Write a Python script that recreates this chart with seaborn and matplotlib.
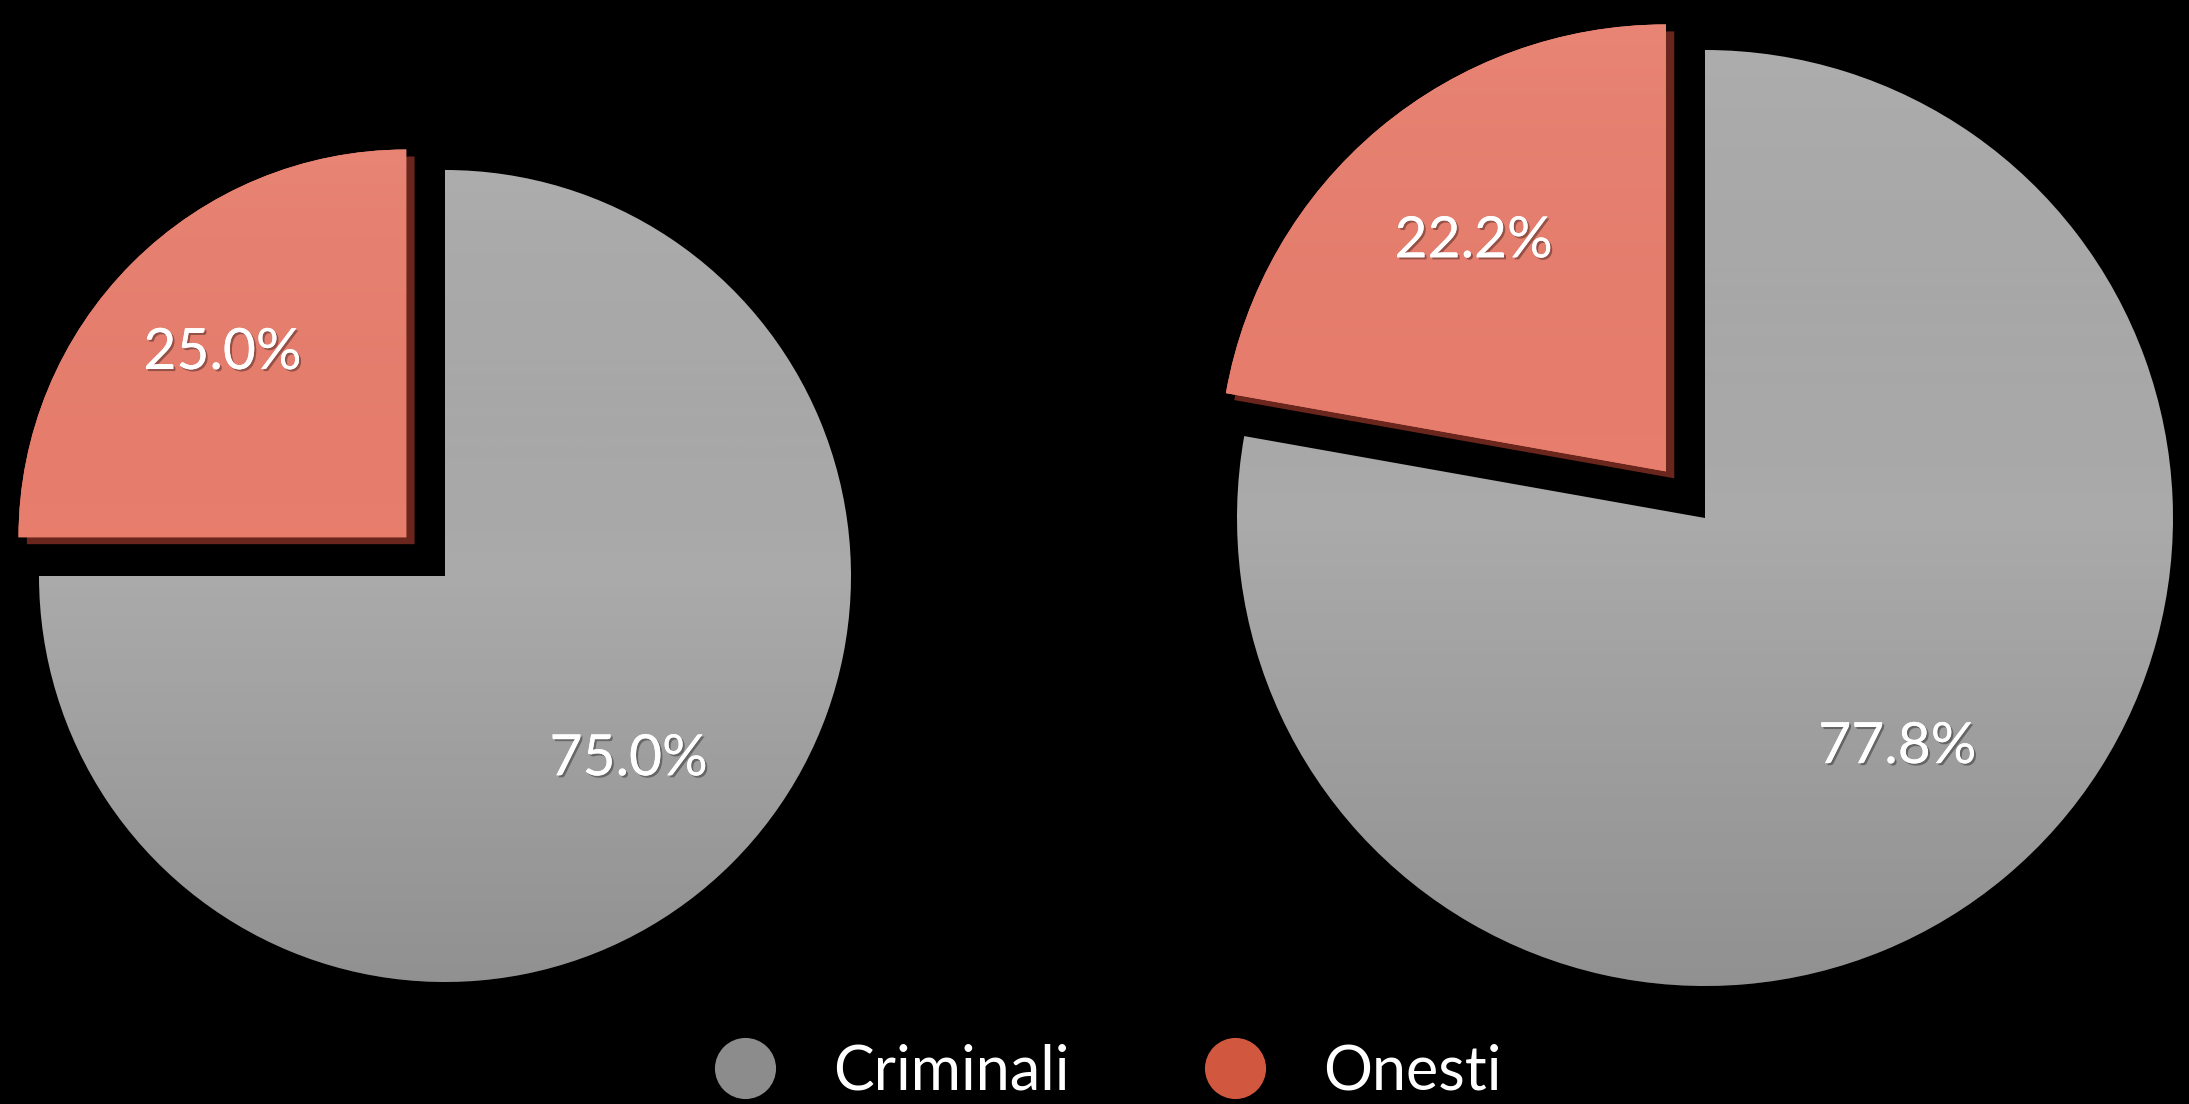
import numpy as np
import matplotlib
matplotlib.use("Agg")
import matplotlib.pyplot as plt
import matplotlib.patheffects as pe
from matplotlib.colors import LinearSegmentedColormap
from matplotlib.lines import Line2D
import seaborn as sns

# Data
categories = ["Criminali", "Onesti"]
left_values = [75.0, 25.0]
right_values = [77.8, 22.2]

# Styling
pie_colors = ["#aaaaaa", "#e97e6d"]
legend_colors = ["#8c8c8c", "#d2573f"]
side_color = "#6a261c"

sns.set_style("dark", {"axes.facecolor": "black", "figure.facecolor": "black"})
plt.rcParams["font.family"] = ["Lato", "DejaVu Sans"]

W, H = 2189, 1104
fig = plt.figure(figsize=(W / 100, H / 100), dpi=100, facecolor="black")
ax = fig.add_axes([0, 0, 1, 1])
ax.set_facecolor("black")

shade = LinearSegmentedColormap.from_list(
    "shade", [(1, 1, 1, 0.08), (0, 0, 0, 0.0), (0, 0, 0, 0.18)]
)
grad = np.linspace(0, 1, 256).reshape(-1, 1)

# (values, centre in pixels, radius, explode as a fraction of the radius)
pies = [
    (left_values, (445, H - 576), 406, 0.135),
    (right_values, (1705, H - 518), 468, 0.13),
]

for values, center, radius, explode in pies:
    wedges, _, autotexts = ax.pie(
        values,
        colors=pie_colors,
        startangle=90,
        counterclock=False,
        explode=[0, explode * radius],
        center=center,
        radius=radius,
        autopct="%1.1f%%",
        pctdistance=0.64,
        wedgeprops=dict(linewidth=0),
        textprops=dict(color="white", fontsize=41),
    )
    # slightly smaller, raised slice with a dark extruded side
    wedges[1].set_radius(radius * 0.955)
    wedges[1].set_path_effects([
        pe.withSimplePatchShadow(offset=(6, -5), shadow_rgbFace=side_color, alpha=1.0),
        pe.Normal(),
    ])
    # soft vertical shading on each slice
    cx, cy = center
    for w in wedges:
        im = ax.imshow(
            grad, extent=[cx - radius * 1.2, cx + radius * 1.2, cy - radius * 1.2, cy + radius * 1.2],
            origin="upper", cmap=shade, aspect="auto", zorder=1.5, interpolation="bicubic",
        )
        im.set_clip_path(w)
    for t in autotexts:
        t.set_zorder(4)
        t.set_path_effects([
            pe.withSimplePatchShadow(offset=(1.5, -1.5), shadow_rgbFace="black", alpha=0.35),
            pe.Normal(),
        ])

handles = [
    Line2D([], [], marker="o", linestyle="", markersize=44,
           markerfacecolor=c, markeredgewidth=0)
    for c in legend_colors
]
fig.legend(
    handles, categories, loc="center", bbox_to_anchor=(1108 / W, 1 - 1072 / H),
    ncol=2, frameon=False, fontsize=44, handlelength=1.0, handletextpad=0.94,
    columnspacing=2.2, labelcolor="white", borderpad=0, borderaxespad=0,
)

ax.set_xlim(0, W)
ax.set_ylim(0, H)
ax.set_aspect("equal")
ax.axis("off")

fig.savefig("out.png", dpi=100, facecolor="black")
